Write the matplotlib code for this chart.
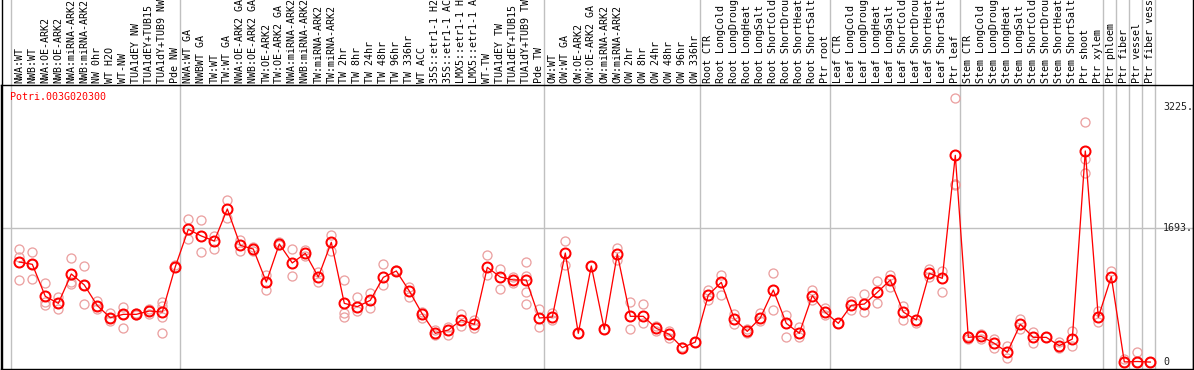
import numpy as np
import matplotlib
matplotlib.use("Agg")
import matplotlib.pyplot as plt
from matplotlib.lines import Line2D

# подписи образцов (88 штук), по группам
group_labels = [
    ["NWA:WT", "NWB:WT", "NWA:OE-ARK2", "NWB:OE-ARK2", "NWA:miRNA-ARK2", "NWB:miRNA-ARK2",
     "NW 0hr", "WT H2O", "WT-NW", "TUA1dEY NW", "TUA1dEY+TUB15 NW", "TUA1dY+TUB9 NW", "Pde NW"],
    ["NWA:WT GA", "NWBWT GA", "TW:WT", "TW:WT GA", "NWA:OE-ARK2 GA", "NWB:OE-ARK2 GA",
     "TW:OE-ARK2", "TW:OE-ARK2 GA", "NWA:miRNA-ARK2 GA", "NWB:miRNA-ARK2 GA", "TW:miRNA-ARK2",
     "TW:miRNA-ARK2", "TW 2hr", "TW 8hr", "TW 24hr", "TW 48hr", "TW 96hr", "TW 336hr", "WT ACC",
     "35S::etr1-1 H2O", "35S::etr1-1 ACC", "LMX5::etr1-1 H2O", "LMX5::etr1-1 ACC", "WT-TW",
     "TUA1dEY TW", "TUA1dEY+TUB15 TW", "TUA1dY+TUB9 TW", "Pde TW"],
    ["OW:WT", "OW:WT GA", "OW:OE-ARK2", "OW:OE-ARK2 GA", "OW:miRNA-ARK2", "OW:miRNA-ARK2",
     "OW 2hr", "OW 8hr", "OW 24hr", "OW 48hr", "OW 96hr", "OW 336hr"],
    ["Root CTR", "Root LongCold", "Root LongDrought", "Root LongHeat", "Root LongSalt",
     "Root ShortCold", "Root ShortDrought", "Root ShortHeat", "Root ShortSalt", "Ptr root"],
    ["Leaf CTR", "Leaf LongCold", "Leaf LongDrought", "Leaf LongHeat", "Leaf LongSalt",
     "Leaf ShortCold", "Leaf ShortDrought", "Leaf ShortHeat", "Leaf ShortSalt", "Ptr leaf"],
    ["Stem CTR", "Stem LongCold", "Stem LongDrought", "Stem LongHeat", "Stem LongSalt",
     "Stem ShortCold", "Stem ShortDrought", "Stem ShortHeat", "Stem ShortSalt", "Ptr shoot", "Ptr xylem"],
    ["Ptr phloem"], ["Ptr fiber"], ["Ptr vessel"], ["Ptr fiber vessel"],
]
labels = [s for g in group_labels for s in g]

# средние значения экспрессии
means = [1267, 1238, 833, 745, 1116, 977, 716, 564, 606, 606, 648, 635, 1208,
         1680, 1596, 1532, 1937, 1478, 1431, 1014, 1495, 1255, 1377, 1078, 1516, 745, 703,
         783, 1073, 1154, 901, 610, 366, 408, 534, 480, 1200, 1078, 1040, 1040, 560,
         572, 1381, 366, 1217, 416, 1368, 581, 581, 429, 353, 185, 256,
         850, 1010, 547, 391, 560, 913, 492, 366, 842, 631,
         492, 720, 736, 884, 1040, 635, 534, 1124, 1061, 2615,
         315, 328, 240, 126, 480, 315, 315, 210, 294, 2670, 568,
         1082, 5, 10, 3]

# повторности (разное число на образец)
reps = [[1431, 1326, 1040], [1389, 1048, 1238], [997, 766, 720], [825, 678, 745],
        [1313, 1010, 985], [1217, 736, 977], [770, 669, 716], [627, 526, 564],
        [703, 429, 606], [627, 593, 606], [678, 610, 648], [762, 716, 572, 366],
        [1225, 1200], [1806, 1554], [1798, 1389], [1600, 1427], [2046, 1819],
        [1545, 1410], [1452, 1410], [1103, 913], [1516, 1486], [1431, 1090],
        [1419, 1347], [1145, 1010], [1608, 1410], [1036, 619, 577], [829, 648],
        [871, 690], [1238, 977], [1166, 1154], [956, 829], [631, 556], [408, 345],
        [450, 345], [610, 459], [534, 429], [1356, 1103], [1179, 922], [1082, 997],
        [1271, 1090, 892, 736], [669, 442], [619, 534], [1528, 1229], [366], [1217],
        [416], [1440, 1292], [762, 421], [736, 501], [459, 400], [396, 311], [197],
        [256], [913, 787], [1103, 850], [610, 484], [421, 366], [627, 526],
        [1128, 661], [598, 320], [450, 320], [913, 787], [686, 593], [492],
        [779, 661], [859, 640], [1023, 753], [1099, 947], [711, 534], [501],
        [1175, 1082], [1154, 884], [3335, 2253, 2240], [337, 290], [358, 294],
        [290, 176], [206, 59], [543, 416], [383, 248], [315], [252, 185], [400, 210],
        [3036, 2564, 2396], [652, 505], [1154], [46, 0], [126, 0], [3]]

gene = "Potri.003G020300"
ytick_vals = [3225, 1693, 0]
ytick_text = ["3225.", "1693.", "0"]

W, H = 1194, 370
fig = plt.figure(figsize=(W / 100, H / 100), dpi=100)
ax = fig.add_axes([1 / W, 1 / H, 1192 / W, 284 / H])
px = 0.72  # 1 пиксель в пунктах

x = np.arange(len(means))
ax.set_xlim(-1.408, 90.285)
ax.set_ylim(-84.6, 3503.5)
ax.set_xticks([])
ax.set_yticks([])
for sp in ax.spines.values():
    sp.set_color("black")
    sp.set_linewidth(1.4 * px)

# рамка продолжается вверх через зону подписей
for xf in [1.5 / W, 1192.5 / W]:
    fig.add_artist(Line2D([xf, xf], [0, 1], transform=fig.transFigure, color="black", lw=1.4 * px))

# серые разделители групп
sizes = [len(g) for g in group_labels]
bounds = np.concatenate([[0], np.cumsum(sizes)]) - 0.64
for b in bounds:
    ax.axvline(b, ymin=0, ymax=1 + 85 / 284, color="#c0c0c0", lw=1.4 * px, clip_on=False, zorder=0)
ax.axhline(1693, color="#c0c0c0", lw=1.4 * px, zorder=0)

# повторности
rx = [i for i, r in enumerate(reps) for _ in r]
ry = [v for r in reps for v in r]
ax.plot(rx, ry, linestyle="none", marker="o", markersize=6.5, markerfacecolor="none",
        markeredgecolor="#eba0a0", markeredgewidth=1.3 * px, zorder=2)

# средние
ax.plot(x, means, color="#ff0000", lw=1.3 * px, marker="o", markersize=7.2,
        markerfacecolor="none", markeredgecolor="#ff0000", markeredgewidth=2 * px, zorder=3)

mono = "DejaVu Sans Mono"
fs = 7.2

for i, lab in enumerate(labels):
    ax.text(i, 1 + 2 / 284, lab, transform=ax.get_xaxis_transform(), rotation=90,
            ha="center", va="bottom", fontsize=fs, family=mono, color="black")

ax.text(9 / 1192, (369 - 97) / 284, gene, transform=ax.transAxes, ha="left", va="center",
        fontsize=fs, family=mono, color="#ff0000")

for v, t in zip(ytick_vals, ytick_text):
    ax.text((1163 - 1) / 1192, v, t, transform=ax.get_yaxis_transform(), ha="left",
            va="center", fontsize=fs, family=mono, color="#202020")

fig.savefig("out.png", dpi=100)
